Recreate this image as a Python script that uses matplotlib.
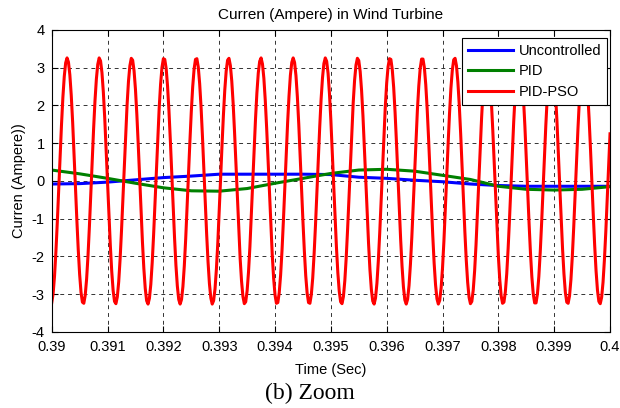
#!/usr/bin/env python

import numpy as np

import matplotlib
matplotlib.use('Agg')
import matplotlib.pyplot as plt

# time window of the zoom
t_start = 0.39
t_end = 0.4

# PID-PSO current, one sample every 25 us
pid_pso = [
    -3.23, -2.99, -2.53, -1.88, -1.10, -0.23, 0.65, 1.48, 2.21, 2.77, 3.13, 3.26, 3.15, 2.81, 2.27, 1.56,
    0.73, -0.15, -1.02, -1.81, -2.47, -2.95, -3.21, -3.24, -3.03, -2.60, -1.98, -1.21, -0.35, 0.53, 1.37,
    2.12, 2.70, 3.09, 3.26, 3.18, 2.87, 2.35, 1.66, 0.84, -0.03, -0.90, -1.71, -2.39, -2.90, -3.19, -3.25,
    -3.07, -2.67, -2.07, -1.32, -0.47, 0.41, 1.27,
    2.02, 2.64, 3.05, 3.25, 3.20, 2.92, 2.43, 1.76, 0.96, 0.09, -0.79, -1.61, -2.31, -2.84, -3.17, -3.26,
    -3.11, -2.74, -2.16, -1.43, -0.59, 0.29, 1.15, 1.93, 2.56, 3.01, 3.24, 3.22, 2.98, 2.51, 1.86, 1.07,
    0.21, -0.67, -1.50, -2.23, -2.78, -3.14, -3.26, -3.14, -2.80, -2.25, -1.53, -0.70, 0.18, 1.04, 1.83,
    2.49, 2.96, 3.22, 3.24, 3.02, 2.58, 1.96, 1.18, 0.33, -0.56, -1.40, -2.14, -2.72, -3.10, -3.26, -3.17,
    -2.86, -2.33, -1.64, -0.82, 0.06, 0.93, 1.73, 2.41, 2.91, 3.20, 3.25, 3.06, 2.65, 2.05, 1.29, 0.44,
    -0.44, -1.29, -2.05, -2.65, -3.06, -3.25, -3.20, -2.91, -2.41, -1.74, -0.93, -0.06, 0.81, 1.63, 2.33,
    2.86, 3.17, 3.26, 3.10, 2.72, 2.14, 1.40, 0.56, -0.32, -1.18, -1.95, -2.58, -3.02, -3.24, -3.22, -2.96,
    -2.49, -1.84, -1.05, -0.18, 0.70, 1.53, 2.24, 2.80, 3.14, 3.26, 3.14, 2.79, 2.23, 1.51, 0.68, -0.20,
    -1.07, -1.85, -2.51, -2.97, -3.22, -3.24, -3.01, -2.57, -1.93, -1.16, -0.30, 0.58, 1.42, 2.16, 2.73,
    3.11, 3.26, 3.17, 2.85, 2.31, 1.61, 0.79, -0.08, -0.95, -1.76, -2.43, -2.92, -3.20, -3.25, -3.06,
    -2.64, -2.03, -1.27, -0.42, 0.46, 1.31, 2.07, 2.67, 3.07, 3.25, 3.19, 2.90, 2.40, 1.72, 0.91, 0.04,
    -0.84, -1.65, -2.35, -2.87, -3.18, -3.26, -3.10, -2.71, -2.12, -1.38, -0.54, 0.35, 1.20, 1.97, 2.60,
    3.03, 3.24, 3.22, 2.95, 2.48, 1.82, 1.02, 0.15, -0.72, -1.55, -2.26, -2.81, -3.15,
    -3.26, -3.13, -2.77, -2.21, -1.49, -0.65, 0.23, 1.09, 1.88, 2.52, 2.98, 3.23, 3.23, 3.00, 2.55, 1.91,
    1.13, 0.27, -0.61, -1.44, -2.18, -2.75, -3.12, -3.26, -3.16, -2.83, -2.30, -1.59, -0.77, 0.11, 0.98,
    1.78, 2.45, 2.93, 3.21, 3.25, 3.05,
    2.62, 2.01, 1.25, 0.39, -0.49, -1.34, -2.09, -2.68, -3.08, -3.25, -3.19, -2.89, -2.38, -1.69, -0.88,
    -0.01, 0.87, 1.68, 2.37, 2.88, 3.18, 3.25, 3.09, 2.69, 2.10, 1.35, 0.51, -0.37, -1.23, -1.99, -2.61,
    -3.04, -3.24, -3.21, -2.94, -2.46,
    -1.79, -1.00, -0.13, 0.75, 1.57, 2.28, 2.82, 3.16, 3.26, 3.12, 2.76, 2.19, 1.46, 0.63, -0.25, -1.12,
    -1.90, -2.54, -2.99, -3.23, -3.23, -2.99, -2.53, -1.89, -1.11, -0.25, 0.63, 1.47, 2.20, 2.76, 3.13,
    3.26, 3.16, 2.82, 2.28, 1.57, 0.74,
    -0.14, -1.00, -1.80, -2.46, -2.95, -3.21, -3.24, -3.04, -2.61, -1.99, -1.22, -0.37, 0.52, 1.36, 2.11,
    2.70, 3.09, 3.26, 3.18, 2.88, 2.36, 1.67, 0.86, -0.02, -0.89, -1.70, -2.38, -2.89, -3.19, -3.25,
    -3.08, -2.68, -2.08, -1.33, -0.48, 0.40, 1.25,
]

# slow signals, one sample every 0.5 ms
uncontrolled = [-0.08, -0.07, -0.03, 0.03, 0.09, 0.13, 0.18, 0.18, 0.18, 0.18, 0.17,
                0.10, 0.07, 0.02, -0.02, -0.08, -0.12, -0.14, -0.14, -0.14, -0.14]
pid = [0.29, 0.19, 0.07, -0.06, -0.18, -0.26, -0.27, -0.20, -0.06, 0.07, 0.20,
       0.29, 0.31, 0.26, 0.15, 0.04, -0.14, -0.22, -0.24, -0.22, -0.15]

x_ticks = [0.39, 0.391, 0.392, 0.393, 0.394, 0.395, 0.396, 0.397, 0.398, 0.399, 0.4]
x_labels = ['0.39', '0.391', '0.392', '0.393', '0.394', '0.395', '0.396', '0.397', '0.398', '0.399', '0.4']
y_ticks = [-4, -3, -2, -1, 0, 1, 2, 3, 4]


def main():
    plt.rcParams['font.family'] = ['Liberation Sans', 'DejaVu Sans']
    plt.rcParams['axes.unicode_minus'] = False

    t_fast = np.linspace(t_start, t_end, len(pid_pso))
    t_slow = np.linspace(t_start, t_end, len(pid))

    fig = plt.figure(figsize=(6.2, 4.08), dpi=100)
    ax = fig.add_axes([0.0834, 0.1863, 0.9005, 0.7402])

    ax.plot(t_slow, uncontrolled, color=(0, 0, 1), lw=2.2, label='Uncontrolled')
    ax.plot(t_slow, pid, color=(0, 0.5, 0), lw=2.2, label='PID')
    ax.plot(t_fast, pid_pso, color=(1, 0, 0), lw=2.2, label='PID-PSO')

    ax.set_xlim(t_start, t_end)
    ax.set_ylim(-4, 4)
    ax.set_xticks(x_ticks)
    ax.set_xticklabels(x_labels)
    ax.set_yticks(y_ticks)
    ax.tick_params(direction='in', top=True, right=True, labelsize=10.5, length=4, width=0.8)
    ax.tick_params(axis='x', pad=5.5)
    ax.tick_params(axis='y', pad=5)
    for sp in ax.spines.values():
        sp.set_linewidth(0.8)

    ax.grid(True, color='0.2', linestyle=(0, (4, 4)), linewidth=0.7)
    ax.set_axisbelow(True)

    ax.set_title('Curren (Ampere) in Wind Turbine', fontsize=11, pad=8)
    ax.set_xlabel('Time (Sec)', fontsize=10.5, labelpad=6.5)
    ax.set_ylabel('Curren (Ampere))', fontsize=10.5, labelpad=4)

    leg = ax.legend(loc='upper right', bbox_to_anchor=(0.9946, 0.9735), borderaxespad=0,
                    fontsize=10.5, fancybox=False, framealpha=1, edgecolor='black',
                    handlelength=3.1, handletextpad=0.4, labelspacing=0.45, borderpad=0.4)
    leg.get_frame().set_linewidth(0.8)

    fig.text(0.5, 0.022, '(b) Zoom', ha='center', va='baseline',
             family=['Liberation Serif', 'DejaVu Serif'], fontsize=17)

    fig.savefig('out.png', dpi=100)


if __name__ == '__main__':
    main()
